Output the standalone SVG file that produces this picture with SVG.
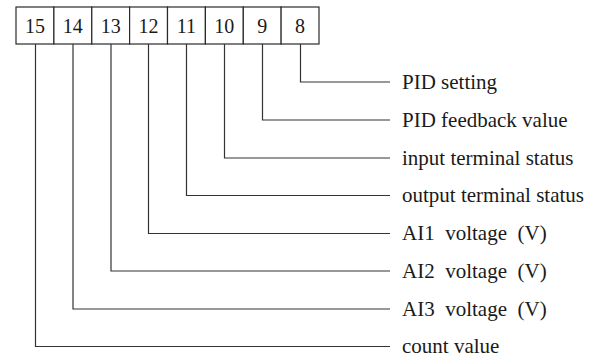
<svg xmlns="http://www.w3.org/2000/svg" width="595" height="357" viewBox="0 0 595 357">
<style>
.cell{fill:#fff;stroke:#2a2a2a;stroke-width:1.2}
.num{font-family:"Liberation Serif","Times New Roman",serif;font-size:20px;fill:#1a1a1a;text-anchor:middle}
.lbl{font-family:"Liberation Serif","Times New Roman",serif;font-size:21px;fill:#1a1a1a;white-space:pre}
.conn{fill:none;stroke:#333;stroke-width:1.2}
</style>
<rect width="595" height="357" fill="#fff"/>
<g id="register">
<g id="bit15"><rect class="cell" x="16" y="7" width="37.9" height="37"/><text class="num" x="35" y="33">15</text></g>
<g id="bit14"><rect class="cell" x="53.9" y="7" width="37.9" height="37"/><text class="num" x="72.8" y="33">14</text></g>
<g id="bit13"><rect class="cell" x="91.8" y="7" width="37.9" height="37"/><text class="num" x="110.7" y="33">13</text></g>
<g id="bit12"><rect class="cell" x="129.6" y="7" width="37.9" height="37"/><text class="num" x="148.6" y="33">12</text></g>
<g id="bit11"><rect class="cell" x="167.5" y="7" width="37.9" height="37"/><text class="num" x="186.4" y="33">11</text></g>
<g id="bit10"><rect class="cell" x="205.4" y="7" width="37.9" height="37"/><text class="num" x="224.3" y="33">10</text></g>
<g id="bit9"><rect class="cell" x="243.3" y="7" width="37.9" height="37"/><text class="num" x="262.2" y="33">9</text></g>
<g id="bit8"><rect class="cell" x="281.1" y="7" width="37.9" height="37"/><text class="num" x="300" y="33">8</text></g>
</g>
<g id="connectors">
<polyline class="conn" points="300.5,44 300.5,82 390,82"/>
<polyline class="conn" points="262.5,44 262.5,120 390,120"/>
<polyline class="conn" points="224.5,44 224.5,158 390,158"/>
<polyline class="conn" points="186.5,44 186.5,195.5 390,195.5"/>
<polyline class="conn" points="148.5,44 148.5,233.5 390,233.5"/>
<polyline class="conn" points="111,44 111,271 390,271"/>
<polyline class="conn" points="73,44 73,309 390,309"/>
<polyline class="conn" points="35.5,44 35.5,346.5 390,346.5"/>
</g>
<g id="labels">
<g id="lbl8"><text class="lbl" x="402" y="88.5">PID setting</text></g>
<g id="lbl9"><text class="lbl" x="402" y="126.5">PID feedback value</text></g>
<g id="lbl10"><text class="lbl" x="402" y="164.5">input terminal status</text></g>
<g id="lbl11"><text class="lbl" x="402" y="202">output terminal status</text></g>
<g id="lbl12"><text class="lbl" x="402" y="240">AI1  voltage  (V)</text></g>
<g id="lbl13"><text class="lbl" x="402" y="277.5">AI2  voltage  (V)</text></g>
<g id="lbl14"><text class="lbl" x="402" y="315.5">AI3  voltage  (V)</text></g>
<g id="lbl15"><text class="lbl" x="402" y="353">count value</text></g>
</g>
</svg>
